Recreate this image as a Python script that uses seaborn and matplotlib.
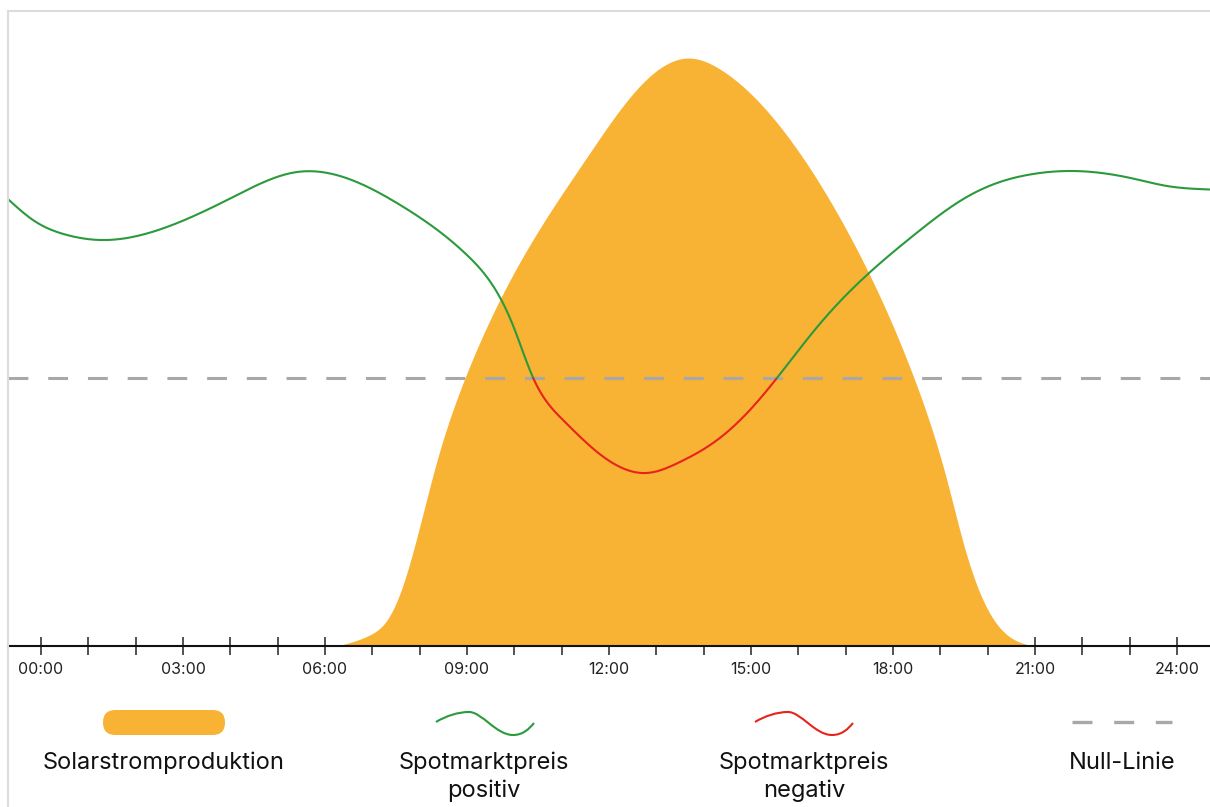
import numpy as np
import pandas as pd
import seaborn as sns
import matplotlib.pyplot as plt
from matplotlib.path import Path
from matplotlib.patches import PathPatch, FancyBboxPatch
from matplotlib.lines import Line2D

# Solar production (share of daily peak, %)
solar_hours = [6.25, 6.95, 7.31, 7.65, 8.37, 8.96, 10.12, 11.54, 12.58, 13.67,
               14.35, 15.61, 17.03, 18.42, 19.14, 19.48, 19.84, 20.20, 20.54, 20.96]
solar_share = [0, 1.9, 4.4, 10.4, 31.6, 45.6, 65.3, 83.2, 94.6, 100,
               98.1, 88.4, 70.6, 46.1, 28.2, 17.7, 9.0, 3.7, 1.2, 0]

# Spot market price (arbitrary units, 0 = null line)
price_hours = [-0.70, -0.17, 0.55, 1.25, 2.66, 4.06, 5.41, 7.59, 9.00, 9.97, 10.40,
               11.03, 11.75, 12.80, 13.50, 14.20, 14.92, 15.55, 16.40, 17.45, 18.42,
               19.56, 20.26, 20.96, 21.68, 23.07, 23.79, 24.70]
price_values = [35.8, 31.6, 28.6, 27.6, 30.2, 36.2, 41.2, 34.6, 24.6, 10.6, 0.0,
                -8.4, -14.8, -19.0, -16.8, -13.0, -7.0, 0.0, 10.2, 20.6, 28.4,
                36.2, 39.2, 40.8, 41.4, 39.9, 38.4, 37.7]

tick_hours = list(range(0, 25))
tick_labels = ['%02d:00' % h if h % 3 == 0 else '' for h in tick_hours]

legend_labels = ['Solarstromproduktion', 'Spotmarktpreis\npositiv',
                 'Spotmarktpreis\nnegativ', 'Null-Linie']

SOLAR = '#F8B234'
GREEN = '#2A9A3C'
RED = '#E8231B'
NULL = '#A8A8A8'
FRAME = '#DCDCDC'


def smooth(x, y, xs):
    # natural cubic spline through the read points, only for drawing a smooth line
    x = np.asarray(x, float)
    y = np.asarray(y, float)
    n = len(x)
    h = np.diff(x)
    A = np.zeros((n, n))
    b = np.zeros(n)
    A[0, 0] = A[-1, -1] = 1
    for i in range(1, n - 1):
        A[i, i - 1] = h[i - 1]
        A[i, i] = 2 * (h[i - 1] + h[i])
        A[i, i + 1] = h[i]
        b[i] = 3 * ((y[i + 1] - y[i]) / h[i] - (y[i] - y[i - 1]) / h[i - 1])
    c = np.linalg.solve(A, b)
    bc = (y[1:] - y[:-1]) / h - h * (2 * c[:-1] + c[1:]) / 3
    d = (c[1:] - c[:-1]) / (3 * h)
    i = np.clip(np.searchsorted(x, xs) - 1, 0, n - 2)
    dx = xs - x[i]
    return y[i] + bc[i] * dx + c[i] * dx**2 + d[i] * dx**3


sns.set_theme(style='white')
plt.rcParams['font.family'] = ['Inter', 'DejaVu Sans']

fig = plt.figure(figsize=(12.1, 8.07), dpi=100)
W, H = 1210, 807
ax = fig.add_axes([8 / W, (H - 646) / H, (W - 8) / W, 635 / H])

# solar area
sx = np.linspace(solar_hours[0], solar_hours[-1], 600)
solar = pd.DataFrame({'hour': sx,
                      'share': np.clip(smooth(solar_hours, solar_share, sx), 0, None)})
ax.fill_between(solar['hour'], 0, solar['share'], color=SOLAR, lw=0, zorder=1)
ax.set_ylim(0, 108.0)
ax.set_xlim(-0.697, 24.70)

# price on a twin axis so the null line sits in the middle
ax2 = ax.twinx()
ax2.set_ylim(-53.6, 73.4)
ax2.axhline(0, color=NULL, lw=2.2, dashes=(6.5, 6.5), dash_capstyle='butt', zorder=2)

zeros = [i for i, v in enumerate(price_values) if v == 0]
bounds = [0, zeros[0], zeros[1], len(price_hours) - 1]
colors = [GREEN, RED, GREEN]
for k in range(3):
    px = np.linspace(price_hours[bounds[k]], price_hours[bounds[k + 1]], 300)
    seg = pd.DataFrame({'hour': px, 'price': smooth(price_hours, price_values, px)})
    sns.lineplot(data=seg, x='hour', y='price', color=colors[k], lw=1.5,
                 ax=ax2, sort=False, zorder=3)

for a in (ax, ax2):
    a.set_xlabel('')
    a.set_ylabel('')
    a.set_yticks([])
for s in ax2.spines.values():
    s.set_visible(False)
ax.spines['left'].set_visible(False)
ax.spines['right'].set_visible(False)
ax.spines['top'].set_color(FRAME)
ax.spines['top'].set_linewidth(1.5)
ax.spines['bottom'].set_color('#111111')
ax.spines['bottom'].set_linewidth(1.5)
ax.spines['bottom'].set_zorder(5)

ax.set_xticks(tick_hours)
ax.set_xticklabels(tick_labels)
ax.tick_params(axis='x', direction='inout', length=13.5, width=1.1, color='#222222',
               labelsize=11.5, labelcolor='#222222', pad=4.5, bottom=True)

# left frame line running to the bottom of the figure
fig.add_artist(Line2D([8 / W, 8 / W], [0, (H - 11) / H], color=FRAME, lw=1.5,
                      transform=fig.transFigure))

# legend drawn in pixel coordinates
lg = fig.add_axes([0, 0, 1, 1], zorder=-1)
lg.set_xlim(0, W)
lg.set_ylim(H, 0)
lg.axis('off')

lg.add_patch(FancyBboxPatch((103, 710), 122, 25,
                            boxstyle='round,pad=0,rounding_size=12.5',
                            fc=SOLAR, ec='none'))


def wave(x0, color):
    verts = [(x0, 722), (x0 + 10, 716), (x0 + 22, 712), (x0 + 33, 712),
             (x0 + 46, 712), (x0 + 60, 735), (x0 + 77, 735),
             (x0 + 87, 735), (x0 + 93, 729), (x0 + 98, 723)]
    codes = [Path.MOVETO] + [Path.CURVE4] * 9
    lg.add_patch(PathPatch(Path(verts, codes), fc='none', ec=color, lw=1.5))


wave(436, GREEN)
wave(755, RED)
lg.plot([1072, 1172], [722, 722], color=NULL, lw=2.4, dashes=(6, 6.5),
        dash_capstyle='butt')

label_x = [164, 484, 804, 1122]
for x, t in zip(label_x, legend_labels):
    lg.text(x, 752, t, ha='center', va='top', fontsize=17, color='#111111',
            linespacing=1.3)

plt.savefig('out.png', dpi=100)
